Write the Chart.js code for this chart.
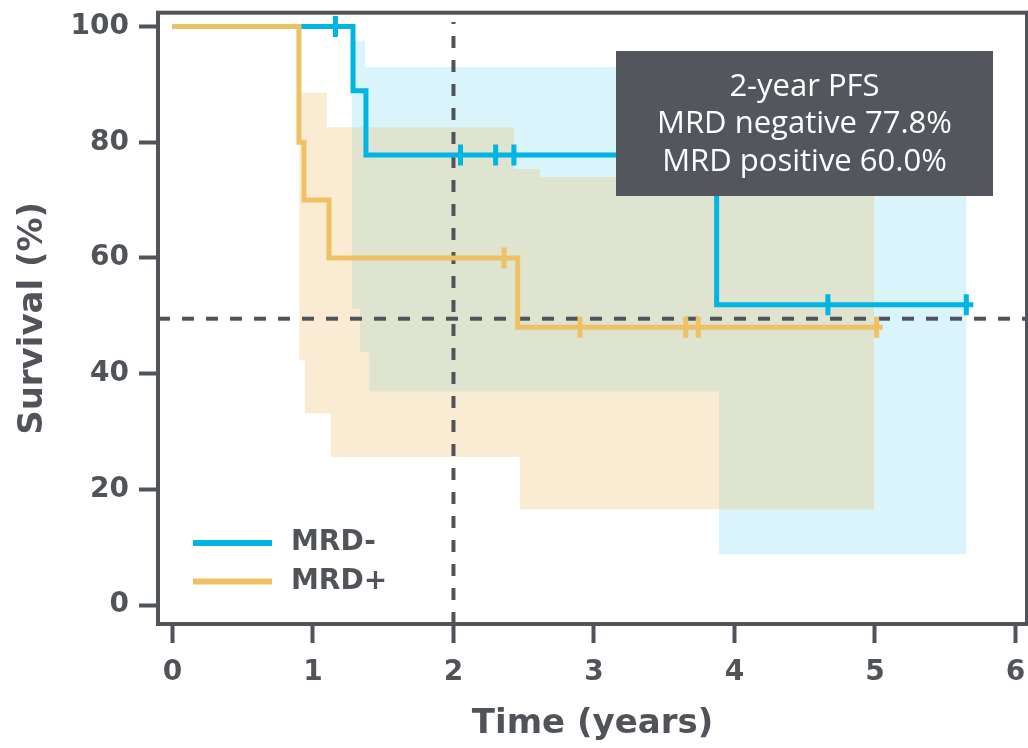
<!DOCTYPE html>
<html>
<head>
<meta charset="utf-8">
<script src="https://cdn.jsdelivr.net/npm/chart.js@4.4.0/dist/chart.umd.min.js"></script>
<style>
  html, body { margin: 0; padding: 0; background: #fff; }
</style>
</head>
<body>
<canvas id="km" width="1028" height="748"></canvas>
<script>
// MRD- curve (time in years, survival %)
const negTime = [0, 1.285, 1.377, 3.873, 5.70];
const negSurv = [100, 88.9, 77.8, 51.9, 51.9];
const negCensorTime = [1.16, 2.05, 2.30, 2.43, 4.665, 5.65];
const negCensorSurv = [100, 77.8, 77.8, 77.8, 51.9, 51.9];
const negCiTime = [1.275, 1.335, 1.370, 1.401, 3.873, 3.890, 5.653];
const negCiUpper = [97.6, 97.6, 93.0, 93.0, 81, 81, 81];
const negCiLower = [51.2, 43.7, 43.7, 36.9, 36.9, 8.8, 8.8];

// MRD+ curve
const posTime = [0, 0.90, 0.936, 1.114, 2.457, 5.055];
const posSurv = [100, 80, 70, 60, 48, 48];
const posCensorTime = [2.36, 2.90, 3.653, 3.742, 5.012];
const posCensorSurv = [60, 48, 48, 48, 48];
const posCiTime = [0.902, 0.943, 1.098, 1.126, 2.431, 2.473, 2.616, 4.993];
const posCiUpper = [88.6, 88.6, 82.6, 82.6, 75.4, 75.4, 74.0, 74.0];
const posCiLower = [42.4, 33.1, 33.1, 25.6, 25.6, 16.5, 16.5, 16.5];

// reference lines + annotation
const landmarkYear = 2;
const medianLevel = 49.5;
const boxLines = ["2-year PFS", "MRD negative 77.8%", "MRD positive 60.0%"];

const BLUE = "#00b4e3";
const ORANGE = "#eec264";
const GRAY = "#505459";
const X_MIN = -0.103, X_MAX = 6.082, Y_MIN = -3.28, Y_MAX = 102.4;

const pts = (xs, ys) => xs.map((x, i) => ({ x: x, y: ys[i] }));
const noPad = () => ({ left: 0, top: 0, right: 0, bottom: 0 });

function stepLine(label, xs, ys, color, order) {
  return {
    label: label, data: pts(xs, ys), borderColor: color, borderWidth: 5,
    stepped: "before", pointRadius: 0, fill: false, order: order,
  };
}
function censors(xs, ys, color, order) {
  return {
    label: "", data: pts(xs, ys), showLine: false, pointStyle: "line",
    rotation: 90, pointRadius: 10.5, pointBorderWidth: 5, borderWidth: 5,
    pointBorderColor: color, borderColor: color, order: order,
  };
}
function band(xs, ys, fill, color, order) {
  return {
    label: "", data: pts(xs, ys), borderWidth: 0, borderColor: "rgba(0,0,0,0)",
    stepped: "before", pointRadius: 0, fill: fill, backgroundColor: color, order: order,
  };
}
function refLine(data) {
  return {
    label: "", data: data, borderColor: GRAY, borderWidth: 4,
    borderDash: [12, 12], pointRadius: 0, fill: false, order: 10,
  };
}

// frame, legend and the PFS box
const extras = {
  id: "extras",
  afterDatasetsDraw(chart) {
    const { ctx, chartArea: ca } = chart;
    ctx.save();
    ctx.strokeStyle = GRAY;
    ctx.lineWidth = 4;
    ctx.strokeRect(ca.left, ca.top, ca.right - ca.left, ca.bottom - ca.top);

    // legend
    const items = [chart.data.datasets[0], chart.data.datasets[1]];
    ctx.font = "bold 28px 'DejaVu Sans'";
    ctx.textBaseline = "middle";
    items.forEach((ds, i) => {
      const y = 543 + i * 38.5;
      ctx.strokeStyle = ds.borderColor;
      ctx.lineWidth = 6;
      ctx.beginPath();
      ctx.moveTo(193, y);
      ctx.lineTo(272, y);
      ctx.stroke();
      ctx.fillStyle = GRAY;
      ctx.fillText(ds.label, 291, y);
    });

    // annotation box
    ctx.fillStyle = "#53565c";
    ctx.fillRect(616, 51, 377, 145);
    ctx.fillStyle = "#ffffff";
    ctx.font = "31px 'Open Sans'";
    ctx.textAlign = "center";
    boxLines.forEach((t, i) => ctx.fillText(t, 804.5, 87 + i * 37.5));
    ctx.restore();
  },
};

const axisFont = { family: "'DejaVu Sans'", size: 28, weight: "bold" };
const titleFont = { family: "'DejaVu Sans'", size: 34, weight: "bold" };

new Chart(document.getElementById("km"), {
  type: "line",
  data: {
    datasets: [
      stepLine("MRD-", negTime, negSurv, BLUE, 5),
      stepLine("MRD+", posTime, posSurv, ORANGE, 3),
      censors(negCensorTime, negCensorSurv, BLUE, 4),
      censors(posCensorTime, posCensorSurv, ORANGE, 2),
      band(negCiTime, negCiUpper, false, "rgba(0,180,228,0.15)", 20),
      band(negCiTime, negCiLower, "-1", "rgba(0,180,228,0.15)", 20),
      band(posCiTime, posCiUpper, false, "rgba(232,185,95,0.28)", 15),
      band(posCiTime, posCiLower, "-1", "rgba(232,185,95,0.28)", 15),
      refLine([{ x: landmarkYear, y: Y_MIN }, { x: landmarkYear, y: 100.8 }]),
      refLine([{ x: X_MIN, y: medianLevel }, { x: X_MAX, y: medianLevel }]),
    ],
  },
  options: {
    responsive: false,
    animation: false,
    devicePixelRatio: 1,
    layout: { autoPadding: false, padding: { top: 12.7, right: 1, bottom: 0, left: 0 } },
    plugins: { legend: { display: false }, tooltip: { enabled: false } },
    scales: {
      x: {
        type: "linear", min: X_MIN, max: X_MAX,
        afterFit: (s) => { s.height = 124; s.paddingLeft = 0; s.paddingRight = 0; s.getPadding = noPad; },
        ticks: { stepSize: 1, includeBounds: false, color: GRAY, font: axisFont, padding: 13 },
        grid: { drawOnChartArea: false, drawTicks: true, tickLength: 19, tickWidth: 4, tickColor: GRAY },
        border: { display: true, width: 4, color: GRAY },
        title: { display: true, text: "Time (years)", color: GRAY, font: titleFont, padding: { top: 0, bottom: 3 } },
      },
      y: {
        min: Y_MIN, max: Y_MAX,
        afterFit: (s) => { s.width = 158; s.paddingTop = 0; s.paddingBottom = 0; s.getPadding = noPad; },
        ticks: { stepSize: 20, includeBounds: false, color: GRAY, font: axisFont, padding: 10 },
        grid: { drawOnChartArea: false, drawTicks: true, tickLength: 19, tickWidth: 4, tickColor: GRAY },
        border: { display: true, width: 4, color: GRAY },
        title: { display: true, text: "Survival (%)", color: GRAY, font: titleFont, padding: { top: 13, bottom: 0 } },
      },
    },
  },
  plugins: [extras],
});
</script>
</body>
</html>
